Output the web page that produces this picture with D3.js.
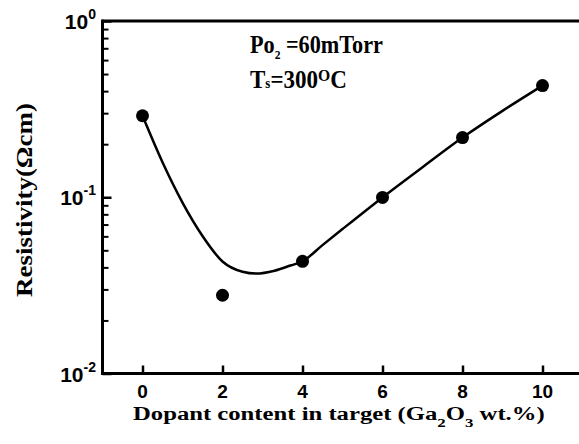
<!DOCTYPE html>
<html>
<head>
<meta charset="utf-8">
<script src="https://cdn.jsdelivr.net/npm/d3@7"></script>
<style>
  html, body { margin: 0; padding: 0; background: #fff; }
  svg { display: block; }
  .tick line { stroke: #000; }
</style>
</head>
<body>
<script>
// Measured resistivity vs. Ga2O3 content in the target
const dopant = [0, 2, 4, 6, 8, 10];
const resistivity = [0.29, 0.0278, 0.0433, 0.0998, 0.218, 0.43];

// Smooth guide curve drawn through the data
const fitX = [0, 0.5, 1, 1.5, 2, 2.5, 2.85, 3.3, 3.7, 4, 4.5, 5, 6, 7, 8, 9, 10];
const fitY = [0.29, 0.158, 0.0933, 0.0603, 0.0432, 0.0378, 0.0369, 0.0383, 0.041, 0.0433, 0.0535, 0.066, 0.0998, 0.148, 0.218, 0.309, 0.43];

// Axis ticks
const xTicks = [0, 2, 4, 6, 8, 10];
const yMajor = [0.01, 0.1, 1];
const yExponents = ["-2", "-1", "0"];
const yMinor = [2, 3, 4, 5, 6, 7, 8, 9].flatMap(m => [m * 0.01, m * 0.1]);

const W = 579, H = 444;
const svg = d3.select("body").append("svg").attr("width", W).attr("height", H);

const x = d3.scaleLinear().domain([-1, 11]).range([102.5, 582.5]);
const y = d3.scaleLog().domain([0.01, 1]).range([373.5, 21]);

// Inward ticks on the left axis
svg.append("g").attr("transform", `translate(${x(-1)},0)`)
  .call(d3.axisLeft(y).tickValues(yMinor).tickSize(-6).tickFormat(""))
  .call(g => g.select(".domain").remove())
  .selectAll("line").attr("stroke-width", 2);
svg.append("g").attr("transform", `translate(${x(-1)},0)`)
  .call(d3.axisLeft(y).tickValues(yMajor).tickSize(-9).tickFormat(""))
  .call(g => g.select(".domain").remove())
  .selectAll("line").attr("stroke-width", 2.5);

// Inward ticks on the bottom axis
svg.append("g").attr("transform", `translate(0,${y(0.01)})`)
  .call(d3.axisBottom(x).tickValues(xTicks).tickSize(-8).tickFormat(""))
  .call(g => g.select(".domain").remove())
  .selectAll("line").attr("stroke-width", 2.5);

// Frame
const frame = svg.append("g").attr("stroke", "#000").attr("stroke-width", 3).attr("fill", "none");
frame.append("line").attr("x1", x(-1)).attr("x2", x(11)).attr("y1", y(1)).attr("y2", y(1));
frame.append("line").attr("x1", x(-1)).attr("x2", x(11)).attr("y1", y(0.01)).attr("y2", y(0.01));
frame.append("line").attr("x1", x(-1)).attr("x2", x(-1)).attr("y1", y(1) - 1.5).attr("y2", y(0.01) + 1.5);

// Tick labels
const sans = "'Liberation Sans', Arial, sans-serif";
const serif = "'Liberation Serif', 'Times New Roman', serif";

svg.append("g").selectAll("text").data(xTicks).join("text")
  .attr("x", d => x(d)).attr("y", 398)
  .attr("text-anchor", "middle")
  .attr("font-family", sans).attr("font-weight", "bold").attr("font-size", 19)
  .text(d => d);

const yl = svg.append("g").selectAll("text").data(yMajor).join("text")
  .attr("x", 96).attr("y", d => y(d) + 8)
  .attr("text-anchor", "end")
  .attr("font-family", sans).attr("font-weight", "bold").attr("font-size", 21);
yl.append("tspan").text("10");
yl.append("tspan").attr("dy", -10).attr("font-size", 14).text((d, i) => yExponents[i]);

// Places a text group so that it starts at (x0, baseline) and spans `width` pixels
function fitWidth(g, x0, baseline, width, rotate) {
  const w = g.node().getBBox().width;
  const sx = width / w;
  g.attr("transform", rotate
    ? `translate(${baseline},${x0}) rotate(-90) scale(${sx},1)`
    : `translate(${x0},${baseline}) scale(${sx},1)`);
}

// Axis titles
const xtG = svg.append("g");
const xt = xtG.append("text")
  .attr("font-family", serif).attr("font-weight", "bold").attr("font-size", 19);
xt.append("tspan").text("Dopant content in target (Ga");
xt.append("tspan").attr("font-size", 13).attr("dy", 7).text("2");
xt.append("tspan").attr("dy", -7).text("O");
xt.append("tspan").attr("font-size", 13).attr("dy", 7).text("3");
xt.append("tspan").attr("dy", -7).text(" wt.%)");
fitWidth(xtG, 133, 420, 412, false);

const ytG = svg.append("g");
ytG.append("text")
  .attr("font-family", serif).attr("font-weight", "bold").attr("font-size", 23)
  .text("Resistivity(Ωcm)");
fitWidth(ytG, 297, 32, 194, true);

// Deposition conditions
const a1G = svg.append("g");
const a1 = a1G.append("text")
  .attr("font-family", serif).attr("font-weight", "bold").attr("font-size", 25);
a1.append("tspan").text("Po");
a1.append("tspan").attr("font-size", 13).attr("dy", 6).text("2");
a1.append("tspan").attr("dy", -6).text(" =60mTorr");
fitWidth(a1G, 250, 53, 133, false);

const a2G = svg.append("g");
const a2 = a2G.append("text")
  .attr("font-family", serif).attr("font-weight", "bold").attr("font-size", 25);
a2.append("tspan").text("T");
a2.append("tspan").attr("font-size", 14).text("s");
a2.append("tspan").text("=300");
a2.append("tspan").attr("font-size", 17).attr("dy", -7).text("O");
a2.append("tspan").attr("dy", 7).text("C");
fitWidth(a2G, 250, 88, 97, false);

// Fitted curve
const pts = fitX.map((d, i) => [d, fitY[i]]);
svg.append("path")
  .datum(pts)
  .attr("fill", "none").attr("stroke", "#000").attr("stroke-width", 2.5)
  .attr("d", d3.line().x(d => x(d[0])).y(d => y(d[1])).curve(d3.curveMonotoneX));

// Data points
svg.append("g").selectAll("circle").data(dopant).join("circle")
  .attr("cx", d => x(d)).attr("cy", (d, i) => y(resistivity[i]))
  .attr("r", 6.5).attr("fill", "#000");
</script>
</body>
</html>
